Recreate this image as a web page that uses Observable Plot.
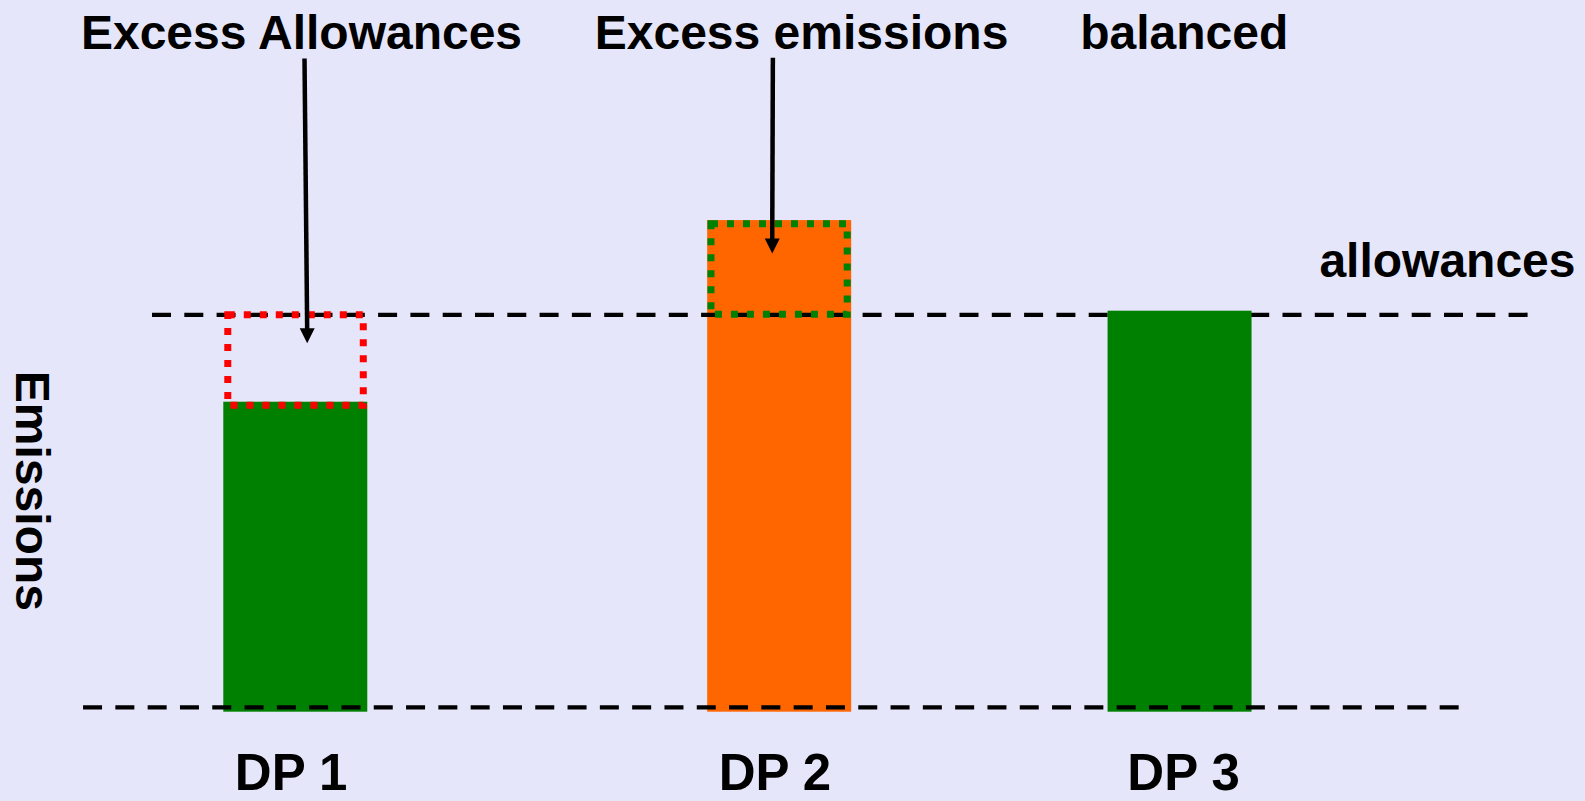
<!DOCTYPE html>
<html>
<head>
<meta charset="utf-8">
<script src="https://cdn.jsdelivr.net/npm/d3@7"></script>
<script src="https://cdn.jsdelivr.net/npm/@observablehq/plot@0.6"></script>
<style>
  html, body { margin: 0; padding: 0; background: #E6E6FA; overflow: hidden; }
  #chart svg { display: block; }
</style>
</head>
<body>
<div id="chart"></div>
<script>
// ---- data ----
const categories = ["DP 1", "DP 2", "DP 3"];
const emissions = [77.3, 122.6, 100];          // emissions per period (allowance cap ≈ 100)
const barColors = ["#008000", "#FF6600", "#008000"];
const allowanceLevel = 99.1;
const baselineLevel = 1.2;
const annotationTexts = ["Excess Allowances", "Excess emissions", "balanced"];
const lineLabel = "allowances";
const yAxisLabel = "Emissions";

// ---- layout (x in percent of width, y in emission units) ----
const barCenter = [18.63, 49.16, 74.42];
const barWidth = 9.085;
const annotationX = [18.99, 50.54, 74.68];
const annotationY = 165.5;
const lineLabelX = 91.29, lineLabelY = 108.5;
const catLabelX = [18.33, 48.86, 74.64];
const catLabelY = -19.4;
const yLabelX = 0.95, yLabelY = 55.2;
const topRule = [9.59, 96.4];
const bottomRule = [5.24, 92.05];
const arrowStart = [[19.18, 163.0], [48.73, 163.2]];
const arrowTip = [[19.35, 92.0], [48.69, 114.4]];
const headUnits = 3.0;

const bars = categories.map((c, i) => ({
  category: c,
  value: emissions[i],
  color: barColors[i],
  x1: barCenter[i] - barWidth / 2,
  x2: barCenter[i] + barWidth / 2
}));

const arrows = arrowStart.map((s, i) => ({
  xs: s[0], ys: s[1],
  xe: arrowTip[i][0], ye: arrowTip[i][1] + headUnits,
  xt: arrowTip[i][0], yt: arrowTip[i][1]
}));

// filled arrowhead pointing down, tip at the origin
const headSymbol = {
  draw(context, size) {
    const r = Math.sqrt(size / Math.PI);
    context.moveTo(0, 0);
    context.lineTo(-r, -2 * r);
    context.lineTo(r, -2 * r);
    context.closePath();
  }
};

const textStyle = {
  fontSize: 48, fontWeight: "bold", fill: "black",
  textAnchor: "middle", lineAnchor: "bottom",
  fontFamily: "Liberation Sans, Arial, Helvetica, sans-serif"
};

const chart = Plot.plot({
  width: 1585,
  height: 801,
  margin: 0,
  x: {domain: [0, 100], range: [0, 1585], axis: null},
  y: {domain: [0, 100], range: [711.7, 310.7], axis: null},
  style: {background: "#E6E6FA", fontFamily: "Liberation Sans, Arial, Helvetica, sans-serif"},
  marks: [
    // DP1 and DP2 bars
    Plot.rect(bars.filter(d => d.category !== "DP 3"), {
      x1: "x1", x2: "x2", y1: () => 0, y2: "value", fill: d => d.color
    }),
    // allowance line
    Plot.ruleY([allowanceLevel], {
      x1: () => topRule[0], x2: () => topRule[1],
      stroke: "black", strokeWidth: 4.3, strokeDasharray: "19,13.3"
    }),
    // DP3 bar
    Plot.rect(bars.filter(d => d.category === "DP 3"), {
      x1: "x1", x2: "x2", y1: () => 0, y2: "value", fill: d => d.color
    }),
    // baseline
    Plot.ruleY([baselineLevel], {
      x1: () => bottomRule[0], x2: () => bottomRule[1],
      stroke: "black", strokeWidth: 4.3, strokeDasharray: "19,13.3"
    }),
    // excess allowances box (DP1)
    Plot.rect([bars[0]], {
      x1: "x1", x2: "x2", y1: "value", y2: () => allowanceLevel,
      insetLeft: 4.5, insetRight: 4, insetBottom: -3.6, insetTop: 0.4,
      fill: "none", stroke: "#FF0000", strokeWidth: 7, strokeDasharray: "7,9"
    }),
    // excess emissions box (DP2)
    Plot.rect([bars[1]], {
      x1: "x1", x2: "x2", y1: () => allowanceLevel, y2: "value",
      insetLeft: 3.8, insetRight: 4, insetTop: 3.7, insetBottom: 0,
      fill: "none", stroke: "#008000", strokeWidth: 7, strokeDasharray: "7,9"
    }),
    // arrows
    Plot.link(arrows, {
      x1: "xs", y1: "ys", x2: "xe", y2: "ye",
      stroke: "black", strokeWidth: 4.5
    }),
    Plot.dot(arrows, {
      x: "xt", y: "yt", r: 7.5, symbol: headSymbol, fill: "black", stroke: "none"
    }),
    // annotations
    Plot.text(annotationTexts, {
      x: (d, i) => annotationX[i], y: () => annotationY, text: d => d, ...textStyle
    }),
    Plot.text([lineLabel], {
      x: () => lineLabelX, y: () => lineLabelY, text: d => d, ...textStyle
    }),
    Plot.text(categories, {
      x: (d, i) => catLabelX[i], y: () => catLabelY, text: d => d, ...textStyle, fontSize: 51
    }),
    Plot.text([yAxisLabel], {
      x: () => yLabelX, y: () => yLabelY, text: d => d, ...textStyle, rotate: 90
    })
  ]
});

document.getElementById("chart").appendChild(chart);
</script>
</body>
</html>
